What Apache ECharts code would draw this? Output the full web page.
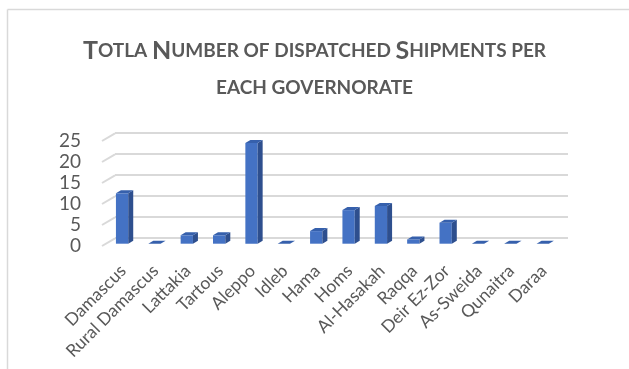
<!DOCTYPE html>
<html>
<head>
<meta charset="utf-8">
<script src="https://cdn.jsdelivr.net/npm/echarts@6/dist/echarts.min.js"></script>
<style>
html,body{margin:0;padding:0;background:#fff;}
#chart{width:629px;height:369px;}
</style>
</head>
<body>
<div id="chart"></div>
<script>
const categories = ['Damascus','Rural Damascus','Lattakia','Tartous','Aleppo','Idleb','Hama','Homs','Al-Hasakah','Raqqa','Deir Ez-Zor','As-Sweida','Qunaitra','Daraa'];
const values = [12,0,2,2,24,0,3,8,9,1,5,0,0,0];
const yTicks = [0,5,10,15,20,25];

const FONT = 'Lato';
const GRAY = '#595959';
// 3D depth (pixels) of back wall and bars
const WALL_DX = 13, WALL_DY = -7.7;
const BAR_OX = 3.9, BAR_OY = -2.3, BAR_DX = 5, BAR_DY = -3;

const chart = echarts.init(document.getElementById('chart'), null, {renderer:'canvas'});

const option = {
  backgroundColor: '#fff',
  animation: false,
  title: {
    left: 'center',
    top: 27,
    text: '{b|T}{s|OTLA }{b|N}{s|UMBER OF DISPATCHED }{b|S}{s|HIPMENTS PER}\n{s|EACH GOVERNORATE}',
    textStyle: {
      rich: {
        b: {fontFamily: FONT, fontWeight: 'bold', fontSize: 25, color: GRAY, lineHeight: 37},
        s: {fontFamily: FONT, fontWeight: 'bold', fontSize: 19, color: GRAY, lineHeight: 37}
      }
    }
  },
  graphic: [
    {type:'line', shape:{x1:7.5, y1:9.5, x2:629, y2:9.5}, style:{stroke:'#d9d9d9', lineWidth:1.5}, silent:true},
    {type:'line', shape:{x1:7.5, y1:9.5, x2:7.5, y2:369}, style:{stroke:'#d9d9d9', lineWidth:1.5}, silent:true}
  ],
  grid: [
    {left: 115, right: 61, top: 133, bottom: 131},   // back wall
    {left: 102, right: 74, top: 141, bottom: 123},   // front plane
    {left: 107, right: 69, top: 141, bottom: 123}    // label plane
  ],
  xAxis: [
    {gridIndex:0, type:'category', data:categories, show:false},
    {gridIndex:1, type:'category', data:categories, show:false},
    {gridIndex:2, type:'category', data:categories,
      axisLine:{show:false}, axisTick:{show:false},
      axisLabel:{interval:0, rotate:45, margin:22, fontFamily:FONT, fontSize:17.5, color:GRAY}}
  ],
  yAxis: [
    {gridIndex:0, type:'value', min:0, max:25, interval:5,
      axisLine:{show:false}, axisTick:{show:false}, axisLabel:{show:false},
      splitLine:{show:true, lineStyle:{color:'#d9d9d9', width:2}}},
    {gridIndex:1, type:'value', min:0, max:25, interval:5,
      axisLine:{show:false}, axisTick:{show:false}, splitLine:{show:false},
      axisLabel:{margin:21, fontFamily:FONT, fontSize:19, color:GRAY}},
    {gridIndex:2, type:'value', min:0, max:25, interval:5, show:false}
  ],
  series: [
    {
      type:'custom', xAxisIndex:1, yAxisIndex:1, silent:true,
      data: yTicks.map(t => [0, t]),
      renderItem: function(params, api){
        const p = api.coord([0, api.value(1)]);
        const band = api.size([1,0])[0];
        const x = p[0] - band/2;
        return {type:'line', shape:{x1:x, y1:p[1], x2:x+WALL_DX, y2:p[1]+WALL_DY},
          style:{stroke:'#d9d9d9', lineWidth:2}};
      }
    },
    {
      type:'custom', xAxisIndex:1, yAxisIndex:1, silent:true,
      data: values.map((v,i) => [i, v]),
      renderItem: function(params, api){
        const i = api.value(0), v = api.value(1);
        const base = api.coord([i, 0]);
        const top = api.coord([i, v]);
        const band = api.size([1,0])[0];
        const w = band * 0.38;
        const x0 = base[0] - w/2 + BAR_OX, x1 = x0 + w;
        const yb = base[1] + BAR_OY, yt = top[1] + BAR_OY;
        const children = [];
        if (yb - yt > 0.5) {
          children.push({type:'rect', shape:{x:x0, y:yt, width:w, height:yb-yt}, style:{fill:'#4472C4'}});
          children.push({type:'polygon', shape:{points:[[x1,yb],[x1+BAR_DX,yb+BAR_DY],[x1+BAR_DX,yt+BAR_DY],[x1,yt]]}, style:{fill:'#2E4F8E'}});
        }
        children.push({type:'polygon', shape:{points:[[x0,yt],[x1,yt],[x1+BAR_DX,yt+BAR_DY],[x0+BAR_DX,yt+BAR_DY]]}, style:{fill:'#3660AC'}});
        return {type:'group', children: children};
      }
    }
  ]
};
chart.setOption(option);
</script>
</body>
</html>
